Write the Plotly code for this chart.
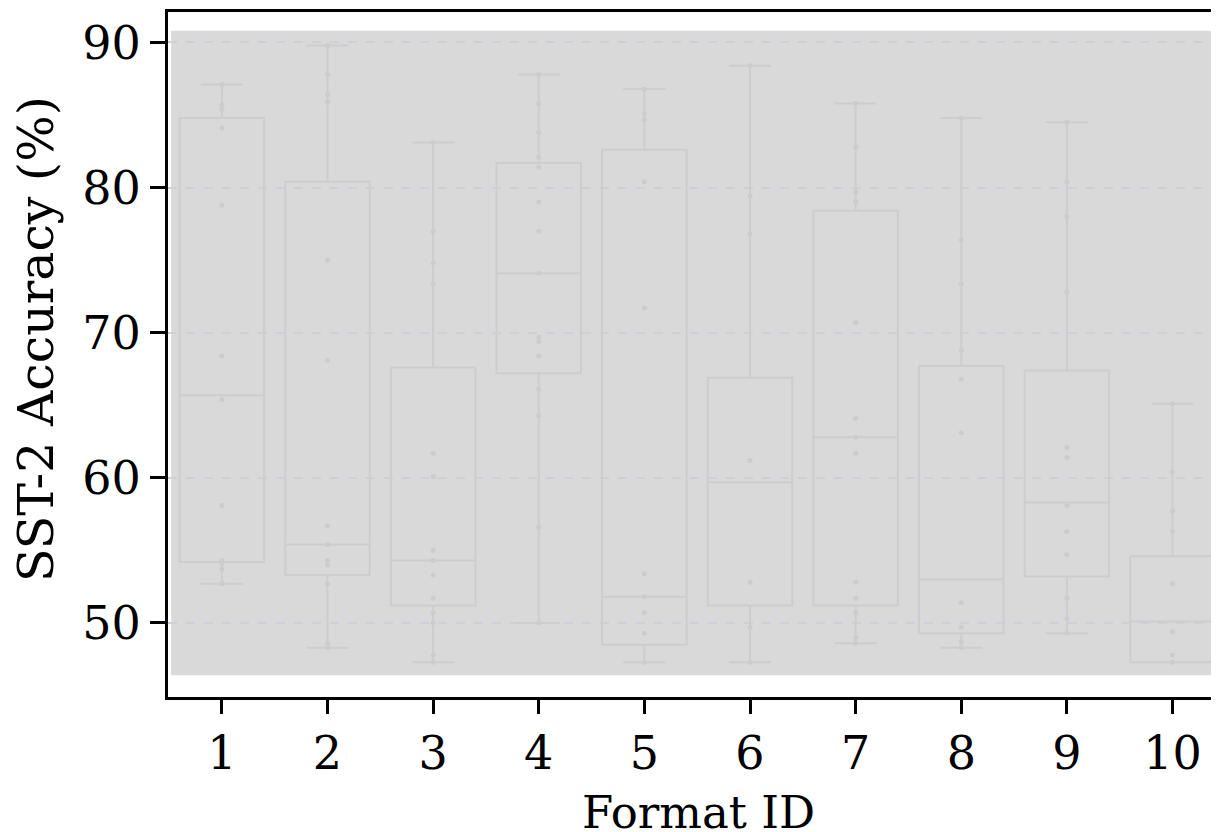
import plotly.graph_objects as go

# ---- data ----
format_ids = [1, 2, 3, 4, 5, 6, 7, 8, 9, 10]
q1 = [54.2, 53.3, 51.2, 67.2, 48.5, 51.2, 51.2, 49.3, 53.2, 47.3]
median = [65.7, 55.4, 54.3, 74.1, 51.8, 59.7, 62.8, 53.0, 58.3, 50.1]
q3 = [84.8, 80.4, 67.6, 81.7, 82.6, 66.9, 78.4, 67.7, 67.4, 54.6]
lower_fence = [52.7, 48.3, 47.3, 50.0, 47.3, 47.3, 48.6, 48.3, 49.3, 47.3]
upper_fence = [87.1, 89.8, 83.1, 87.8, 86.8, 88.4, 85.8, 84.8, 84.5, 65.1]

points_f1 = [87.1, 85.7, 85.4, 84.1, 78.8, 68.4, 65.4, 58.1, 54.3, 54.1, 53.7, 52.7]
points_f2 = [89.8, 87.8, 86.4, 85.9, 75.0, 68.1, 56.7, 55.4, 54.3, 54.0, 52.7, 48.6, 48.3]
points_f3 = [83.1, 77.0, 74.8, 73.4, 61.7, 60.1, 55.0, 54.3, 53.3, 51.7, 50.7, 50.0, 47.8, 47.3]
points_f4 = [87.8, 85.8, 83.8, 82.1, 81.4, 79.0, 77.0, 74.1, 69.7, 69.4, 68.4, 66.1, 64.3, 56.6, 50.0]
points_f5 = [86.8, 85.1, 84.7, 80.4, 71.7, 53.4, 51.8, 50.7, 49.3, 47.3]
points_f6 = [88.4, 79.4, 76.8, 61.2, 52.8, 49.7, 47.3]
points_f7 = [85.8, 82.8, 79.7, 79.0, 70.7, 64.1, 62.8, 61.7, 52.8, 51.7, 50.7, 49.0, 48.6]
points_f8 = [84.8, 76.4, 73.4, 68.8, 66.8, 63.1, 51.4, 49.7, 48.7, 48.3]
points_f9 = [84.5, 80.4, 78.0, 72.8, 62.1, 61.4, 58.1, 56.3, 54.7, 51.7, 50.3, 49.3]
points_f10 = [65.1, 60.4, 57.7, 56.3, 52.7, 49.4, 47.8, 47.3]
all_points = [points_f1, points_f2, points_f3, points_f4, points_f5,
              points_f6, points_f7, points_f8, points_f9, points_f10]

y_ticks = [50, 60, 70, 80, 90]
x_tick_labels = [str(i) for i in format_ids]
x_title = "Format ID"
y_title = "SST-2 Accuracy (%)"

FONT = "DejaVu Serif"
LINE_GREY = "#cdcdcd"

fig = go.Figure()

fig.add_trace(go.Box(
    x=format_ids, q1=q1, median=median, q3=q3,
    lowerfence=lower_fence, upperfence=upper_fence,
    boxpoints=False, width=0.8, whiskerwidth=0.5,
    line=dict(color=LINE_GREY, width=2),
    fillcolor="rgba(0,0,0,0)", showlegend=False, hoverinfo="skip",
))

px, py = [], []
for fid, pts in zip(format_ids, all_points):
    for v in pts:
        px.append(fid)
        py.append(v)
fig.add_trace(go.Scatter(
    x=px, y=py, mode="markers",
    marker=dict(size=5, color="#cccccc"),
    showlegend=False, hoverinfo="skip",
))

fig.add_shape(
    type="rect", xref="x domain", yref="y",
    x0=0.003, x1=1, y0=46.4, y1=90.8,
    fillcolor="#d9d9d9", line=dict(width=0), layer="below",
)

# page body has an ~8px margin, so the figure is 8px smaller than the window
fig.update_layout(
    width=1211, height=824,
    margin=dict(l=160, r=0, t=4, b=135, autoexpand=False),
    paper_bgcolor="white", plot_bgcolor="white",
    font=dict(family=FONT, size=46, color="black"),
    showlegend=False,
)

fig.update_xaxes(
    range=[0.49, 10.44], tickvals=format_ids, ticktext=x_tick_labels,
    showline=True, linecolor="black", linewidth=3, mirror=True,
    ticks="outside", ticklen=14, tickwidth=3, tickcolor="black",
    showgrid=False, zeroline=False, automargin=False,
    tickfont=dict(family=FONT, size=46),
)

fig.update_yaxes(
    range=[44.9, 92.1], tickvals=y_ticks,
    showline=True, linecolor="black", linewidth=3, mirror=False,
    ticks="outside", ticklen=15, tickwidth=3, tickcolor="black",
    showgrid=True, gridcolor="#cdd0da", gridwidth=1.5, griddash="dash",
    zeroline=False, automargin=False,
    tickfont=dict(family=FONT, size=46),
)

fig.add_annotation(
    text=x_title, xref="paper", yref="paper", x=0.505, y=0,
    xanchor="center", yanchor="top", yshift=-87, showarrow=False,
    font=dict(family=FONT, size=45, color="black"),
)
fig.add_annotation(
    text=y_title, xref="paper", yref="paper", x=0, y=0.5226,
    xanchor="center", yanchor="middle", xshift=-132, textangle=-90,
    showarrow=False, font=dict(family=FONT, size=49, color="black"),
)

fig.write_html("out.html")
